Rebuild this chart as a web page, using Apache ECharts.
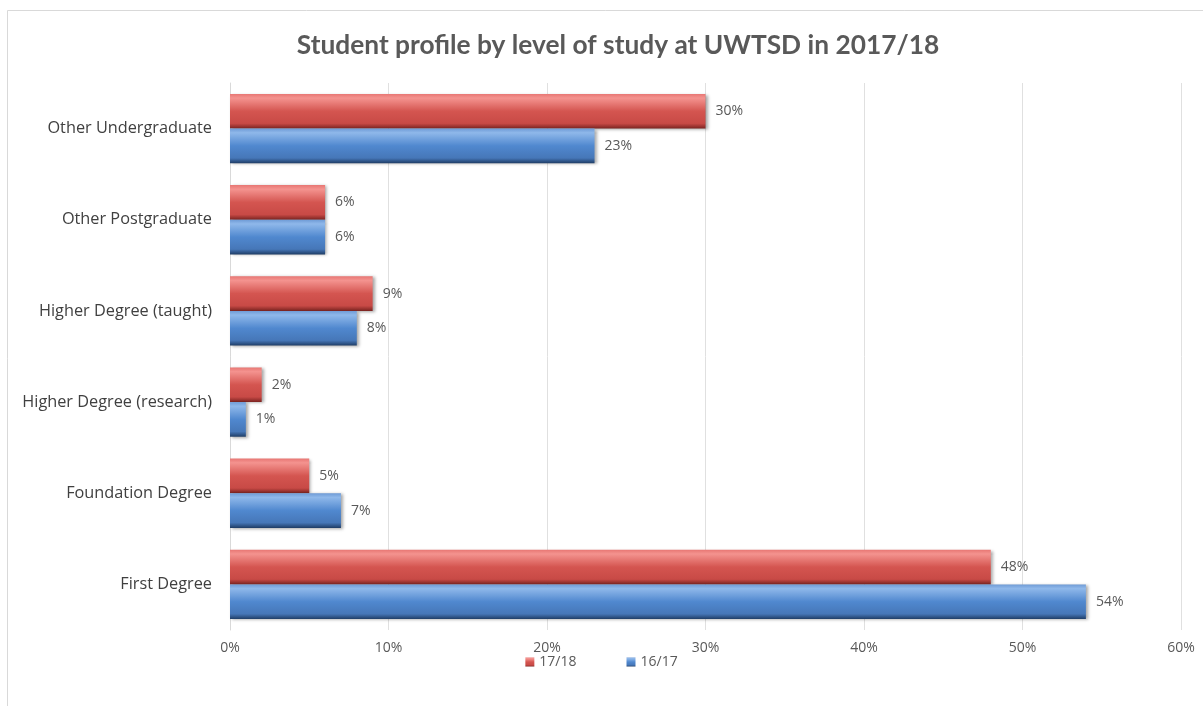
<!DOCTYPE html>
<html>
<head>
<meta charset="utf-8">
<script src="https://cdn.jsdelivr.net/npm/echarts@6/dist/echarts.min.js"></script>
<style>
html,body{margin:0;padding:0;background:#fff;}
#main{width:1203px;height:706px;}
</style>
</head>
<body>
<div id="main"></div>
<script>
const titleText = 'Student profile by level of study at UWTSD in 2017/18';
const categories = ['First Degree', 'Foundation Degree', 'Higher Degree (research)', 'Higher Degree (taught)', 'Other Postgraduate', 'Other Undergraduate'];
const seriesNames = ['17/18', '16/17'];
const values1718 = [48, 5, 2, 9, 6, 30];
const values1617 = [54, 7, 1, 8, 6, 23];
const xTicks = [0, 10, 20, 30, 40, 50, 60];

const chart = echarts.init(document.getElementById('main'));
const font = '"Open Sans", Lato, sans-serif';
const titleFont = 'Lato, "Open Sans", sans-serif';

function grad(top, hi, mid, low, bottom) {
  return new echarts.graphic.LinearGradient(0, 0, 0, 1, [
    {offset: 0, color: top},
    {offset: 0.12, color: hi},
    {offset: 0.5, color: mid},
    {offset: 0.85, color: low},
    {offset: 1, color: bottom}
  ]);
}
const redFill = grad('#e87774', '#f4938f', '#d45550', '#c84a46', '#7a2320');
const blueFill = grad('#6f9bd6', '#8fb8ea', '#5088cf', '#4677b8', '#1f3d66');

chart.setOption({
  backgroundColor: '#fff',
  animation: false,
  title: {
    text: titleText,
    left: 613,
    top: 28,
    textAlign: 'center',
    textStyle: {fontFamily: titleFont, fontWeight: 'bold', fontSize: 26.3, color: '#595959'}
  },
  graphic: [{
    type: 'rect',
    shape: {x: 7.5, y: 10.5, width: 1300, height: 800},
    style: {fill: 'none', stroke: '#d9d9d9', lineWidth: 1},
    silent: true
  }],
  legend: {
    data: seriesNames,
    bottom: 32,
    left: 'center',
    itemWidth: 9,
    itemHeight: 9,
    itemGap: 50,
    icon: 'rect',
    textStyle: {fontFamily: font, fontSize: 14, color: '#595959'}
  },
  grid: {left: 230, right: 22, top: 83, bottom: 76, containLabel: false},
  xAxis: {
    type: 'value',
    min: 0, max: 60, interval: 10,
    axisLine: {show: false},
    axisTick: {show: false},
    splitLine: {lineStyle: {color: '#e0e0e0', width: 1}},
    axisLabel: {formatter: '{value}%', fontFamily: font, fontSize: 14, color: '#595959', margin: 11}
  },
  yAxis: {
    type: 'category',
    data: categories,
    axisLine: {lineStyle: {color: '#d9d9d9'}},
    axisTick: {show: false},
    axisLabel: {fontFamily: font, fontSize: 16.3, color: '#404040', margin: 18}
  },
  series: [
    {
      name: seriesNames[0],
      type: 'bar',
      data: values1718,
      barGap: '0%',
      barCategoryGap: '24%',
      itemStyle: {color: redFill, shadowColor: 'rgba(0,0,0,0.35)', shadowBlur: 3, shadowOffsetX: 2, shadowOffsetY: 1},
      label: {show: true, position: 'right', distance: 10, formatter: '{c}%', fontFamily: font, fontSize: 14, color: '#595959'}
    },
    {
      name: seriesNames[1],
      type: 'bar',
      data: values1617,
      barGap: '0%',
      barCategoryGap: '24%',
      itemStyle: {color: blueFill, shadowColor: 'rgba(0,0,0,0.35)', shadowBlur: 3, shadowOffsetX: 2, shadowOffsetY: 1},
      label: {show: true, position: 'right', distance: 10, formatter: '{c}%', fontFamily: font, fontSize: 14, color: '#595959'}
    }
  ]
});
</script>
</body>
</html>
